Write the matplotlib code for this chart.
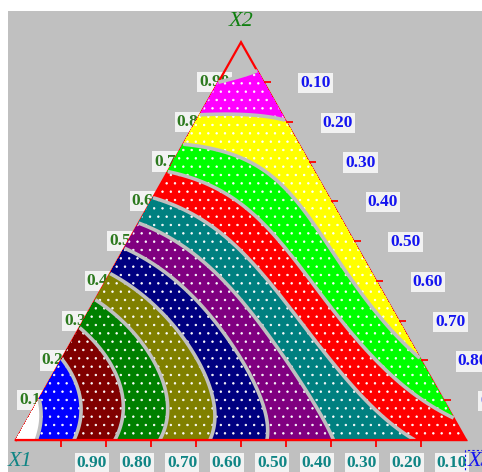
import numpy as np
import matplotlib
matplotlib.use("Agg")
import matplotlib.pyplot as plt
import matplotlib.tri as mtri

# Scheffe quartic mixture model for the response, components x1, x2, x3
linear = [0.427, 13.055, 8.520]         # x1, x2, x3
binary = [-1.832, 4.358, -0.630]        # x1x2, x1x3, x2x3
cubic = [-6.434, 0.506, -8.901]         # x1x2(x1-x2), x1x3(x1-x3), x2x3(x2-x3)
quartic = [-1.449, 0.016, -3.666]       # x1x2(x1-x2)^2, x1x3(x1-x3)^2, x2x3(x2-x3)^2
ternary = [-33.778, 3.899, -25.609]     # x1^2x2x3, x1x2^2x3, x1x2x3^2

levels = list(range(13))
band_colors = ["#FFFFFF", "#0000FF", "#800000", "#008000", "#808000", "#000080",
               "#800080", "#008080", "#FF0000", "#00FF00", "#FFFF00", "#FF00FF"]

tick_values = [0.1, 0.2, 0.3, 0.4, 0.5, 0.6, 0.7, 0.8, 0.9]
tick_labels = ["0.10", "0.20", "0.30", "0.40", "0.50", "0.60", "0.70", "0.80", "0.90"]

HEIGHT = 0.884
GRAY = "#C0C0C0"
RED = "#FF0000"

plt.rcParams["hatch.color"] = "white"
plt.rcParams["hatch.linewidth"] = 0.5


def to_xy(x2, x3):
    x2 = np.asarray(x2, dtype=float)
    x3 = np.asarray(x3, dtype=float)
    return x3 + x2 / 2, x2 * HEIGHT


def response(x1, x2, x3):
    terms = [x1, x2, x3,
             x1 * x2, x1 * x3, x2 * x3,
             x1 * x2 * (x1 - x2), x1 * x3 * (x1 - x3), x2 * x3 * (x2 - x3),
             x1 * x2 * (x1 - x2) ** 2, x1 * x3 * (x1 - x3) ** 2, x2 * x3 * (x2 - x3) ** 2,
             x1 * x1 * x2 * x3, x1 * x2 * x2 * x3, x1 * x2 * x3 * x3]
    coef = linear + binary + cubic + quartic + ternary
    return sum(c * t for c, t in zip(coef, terms))


fig = plt.figure(figsize=(4.82, 4.72), dpi=100, facecolor="white")
ax = fig.add_axes([8 / 482, 0, 474 / 482, 461 / 472])
ax.set_facecolor(GRAY)
ax.set_xlim(-8 / 450, 466 / 450)
ax.set_ylim(-32 / 450, 429 / 450)
ax.set_xticks([])
ax.set_yticks([])
for spine in ax.spines.values():
    spine.set_visible(False)

label_font = dict(family="Liberation Serif", weight="bold", size=12.5)
box = dict(boxstyle="square,pad=0.12", facecolor="#F2F2F2", edgecolor="none")

# X2 labels sit under the filled bands along the left edge
for v, lab in zip(tick_values, tick_labels):
    x, y = to_xy(v, 0.0)
    ax.annotate(lab, (x, y), xytext=(-4, 0), textcoords="offset pixels",
                ha="center", va="center", color="#2D7A1F", bbox=box, zorder=1, **label_font)

# triangle outline
cx, cy = to_xy([0, 1, 0, 0], [0, 0, 1, 0])
ax.plot(cx, cy, color=RED, lw=1.6, zorder=2, solid_joinstyle="miter")

# response surface bands
n = 200
g = np.linspace(0, 1, n + 1)
G2, G3 = np.meshgrid(g, g)
inside = G2 + G3 <= 1 + 1e-9
b2, b3 = G2[inside], G3[inside]
b1 = np.clip(1 - b2 - b3, 0, 1)
z = response(b1, b2, b3)
tx, ty = to_xy(b2, b3)
tri = mtri.Triangulation(tx, ty)
ax.tricontourf(tri, z, levels=levels, colors=band_colors, hatches=[".."], zorder=3)
ax.tricontour(tri, z, levels=levels[1:], colors=GRAY, linewidths=2.6, zorder=4)

# base line and ticks
bx, by = to_xy([0, 0], [0, 1])
ax.plot(bx, by, color=RED, lw=1.6, zorder=5)
kx, ky = to_xy(np.zeros(9), 1 - np.array(tick_values))
ax.plot(kx, ky, ls="none", marker=3, ms=5, mew=1.3, color=RED, zorder=5)
rx, ry = to_xy(1 - np.array(tick_values), np.array(tick_values))
ax.plot(rx, ry, ls="none", marker=1, ms=5, mew=1.3, color=RED, zorder=5)

# X1 labels below the base, X3 labels right of the right edge
for lab, x, y in zip(tick_labels, kx, ky):
    ax.annotate(lab, (x, y), xytext=(31, -23), textcoords="offset pixels",
                ha="center", va="center", color="#108585", bbox=box, zorder=6, **label_font)
for lab, x, y in zip(tick_labels, rx, ry):
    ax.annotate(lab, (x, y), xytext=(52, -1), textcoords="offset pixels",
                ha="center", va="center", color="#1414F0", bbox=box, zorder=6, **label_font)

title_font = dict(family="Liberation Serif", style="italic", size=16)
ax.annotate("X2", to_xy(1, 0), xytext=(0, 21), textcoords="offset pixels",
            ha="center", va="center", color="#108010", zorder=6, **title_font)
ax.annotate("X1", to_xy(0, 0), xytext=(4, -22), textcoords="offset pixels",
            ha="center", va="center", color="#108585", zorder=6, **title_font)
ax.annotate("X3", to_xy(0, 1), xytext=(14, -22), textcoords="offset pixels",
            ha="center", va="center", color="#1414F0", zorder=6,
            bbox=dict(boxstyle="square,pad=0.1", facecolor="none", edgecolor="#1414F0",
                      linestyle=(0, (2, 2)), lw=0.8),
            **title_font)

fig.savefig("out.png", dpi=100, facecolor=fig.get_facecolor())
plt.close(fig)
